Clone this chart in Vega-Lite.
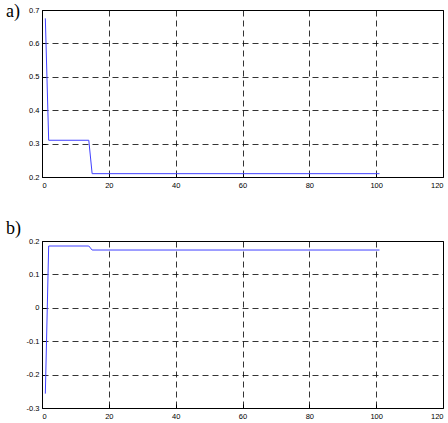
{
  "$schema": "https://vega.github.io/schema/vega-lite/v6.json",
  "background": "white",
  "padding": {"left": 5, "top": 2, "right": 2, "bottom": 2},
  "spacing": 30,
  "config": {
    "view": {"stroke": "black", "strokeWidth": 1},
    "axis": {
      "grid": true, "gridColor": "black", "gridDash": [6, 4], "gridOpacity": 1, "gridWidth": 0.8,
      "domain": false, "tickColor": "black", "tickSize": -4, "tickWidth": 1,
      "labelFont": "Liberation Sans Narrow, Liberation Sans, Arial", "labelFontSize": 7.5, "labelColor": "black",
      "labelPadding": 7, "title": null
    },
    "axisX": {"labelPadding": 8},
    "title": {"font": "Liberation Serif", "fontSize": 18, "fontWeight": "normal", "anchor": "start", "frame": "group", "color": "black"}
  },
  "datasets": {
    "a": [
      {"x": 1, "y": 0.675},
      {"x": 2, "y": 0.31},
      {"x": 14, "y": 0.31},
      {"x": 15, "y": 0.21},
      {"x": 101, "y": 0.21}
    ],
    "b": [
      {"x": 1, "y": -0.257},
      {"x": 2, "y": 0.185},
      {"x": 14, "y": 0.185},
      {"x": 15, "y": 0.173},
      {"x": 101, "y": 0.173}
    ]
  },
  "vconcat": [
    {
      "width": 401, "height": 167,
      "title": {"text": "a)", "dx": -36, "offset": -15},
      "data": {"name": "a"},
      "mark": {"type": "line", "color": "#4040ff", "strokeWidth": 1},
      "encoding": {
        "x": {"field": "x", "type": "quantitative", "scale": {"domain": [0, 120], "nice": false},
              "axis": {"values": [0, 20, 40, 60, 80, 100, 120]}},
        "y": {"field": "y", "type": "quantitative", "scale": {"domain": [0.2, 0.7], "nice": false, "zero": false},
              "axis": {"values": [0.2, 0.3, 0.4, 0.5, 0.6, 0.7], "labelExpr": "'' + datum.value"}}
      }
    },
    {
      "width": 401, "height": 167,
      "title": {"text": "b)", "dx": -36, "offset": -1},
      "data": {"name": "b"},
      "mark": {"type": "line", "color": "#4040ff", "strokeWidth": 1},
      "encoding": {
        "x": {"field": "x", "type": "quantitative", "scale": {"domain": [0, 120], "nice": false},
              "axis": {"values": [0, 20, 40, 60, 80, 100, 120]}},
        "y": {"field": "y", "type": "quantitative", "scale": {"domain": [-0.3, 0.2], "nice": false, "zero": false},
              "axis": {"values": [-0.3, -0.2, -0.1, 0, 0.1, 0.2], "labelExpr": "'' + datum.value"}}
      }
    }
  ]
}
